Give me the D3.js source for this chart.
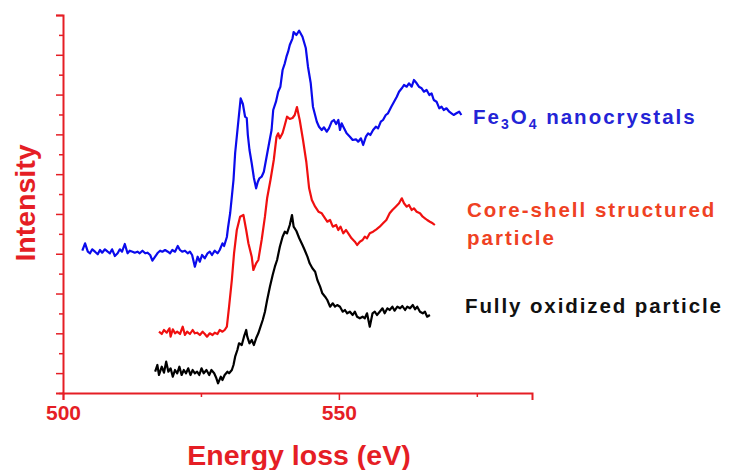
<!DOCTYPE html>
<html>
<head>
<meta charset="utf-8">
<script src="https://cdn.jsdelivr.net/npm/d3@7"></script>
<style>
  body { margin: 0; background: #fff; }
  text { font-family: "Liberation Sans", Arial, sans-serif; font-weight: bold; }
</style>
</head>
<body>
<div id="chart-container"></div>
<script>
// energy loss (eV) and intensity (a.u.)
const fe3o4Energy = [503.5,504.0,504.5,504.9,505.3,505.8,506.3,506.7,507.1,507.6,508.1,508.5,508.9,509.4,509.9,510.3,510.7,511.2,511.7,512.1,512.6,513.0,513.5,513.9,514.4,514.9,515.3,515.8,516.2,516.7,517.2,517.6,518.0,518.5,519.0,519.4,519.8,520.3,520.8,521.2,521.6,522.1,522.6,523.0,523.4,523.9,524.4,524.8,525.2,525.7,526.2,526.6,527.0,527.5,528.0,528.4,528.9,529.2,529.7,529.9,530.3,530.6,530.9,531.2,531.8,532.2,532.6,533.0,533.3,533.5,533.8,534.2,534.6,535.0,535.3,535.6,536.0,536.4,536.9,537.4,537.8,538.1,538.6,539.0,539.4,539.8,540.2,540.5,540.8,541.1,541.6,541.8,542.3,542.8,543.4,544.0,544.4,544.9,545.3,546.0,546.4,546.9,547.3,547.8,548.2,548.7,549.1,549.5,549.9,550.2,550.5,550.8,551.4,552.0,552.5,553.1,553.5,554.0,554.4,554.9,555.3,555.7,556.2,556.7,557.1,557.6,558.0,558.5,558.9,559.5,560.0,560.5,560.9,561.4,561.8,562.3,562.7,563.2,563.6,564.1,564.5,565.0,565.4,565.9,566.4,566.8,567.2,567.7,568.2,568.6,569.0,569.5,570.0,570.4,570.8,571.3,571.8,572.2];
const fe3o4Counts = [1423,1497,1413,1397,1437,1413,1387,1430,1403,1437,1413,1397,1437,1370,1397,1437,1413,1490,1397,1423,1413,1403,1413,1397,1423,1397,1403,1380,1323,1363,1403,1423,1413,1430,1413,1397,1430,1413,1470,1430,1413,1423,1397,1413,1380,1263,1363,1313,1380,1347,1397,1413,1380,1423,1397,1430,1497,1470,1560,1650,1800,1963,2130,2400,2730,2947,2890,2763,2750,2580,2430,2297,2150,2047,2110,2147,2163,2213,2363,2513,2630,2830,2913,3013,3063,3230,3297,3363,3413,3480,3547,3610,3580,3623,3563,3450,3263,3097,2863,2713,2663,2630,2657,2613,2647,2713,2730,2690,2730,2630,2697,2663,2597,2563,2530,2537,2513,2547,2480,2563,2597,2580,2630,2663,2647,2713,2730,2780,2797,2863,2913,2963,3013,3047,3080,3063,3097,3063,3130,3097,3063,3047,3013,3030,2980,2997,2930,2913,2847,2863,2830,2847,2813,2797,2780,2797,2813,2780];

const coreEnergy = [517.4,517.9,518.3,518.8,519.3,519.5,519.9,520.3,520.7,521.2,521.7,522.1,522.5,523.0,523.5,523.9,524.3,524.8,525.3,525.7,526.1,526.6,527.1,527.5,528.0,528.4,528.9,529.3,529.7,530.1,530.6,531.0,531.5,532.1,532.7,533.2,533.6,534.2,534.5,535.0,535.4,536.0,536.6,537.0,537.6,538.2,538.7,539.0,539.3,539.8,540.2,540.6,541.1,541.6,542.0,542.4,542.7,542.9,543.5,544.1,544.6,545.1,545.7,546.3,546.9,547.5,547.9,548.4,548.9,549.5,549.9,550.3,550.8,551.3,551.7,552.3,552.9,553.3,553.8,554.3,554.7,555.1,555.6,556.2,556.8,557.4,558.0,558.6,559.2,559.7,560.3,560.9,561.4,561.8,562.3,562.7,563.2,563.6,564.1,564.7,565.2,565.6,566.0,566.5,567.0,567.4];
const coreCounts = [613,590,630,603,647,563,637,597,613,590,663,580,613,590,630,597,603,580,613,590,563,597,580,603,590,630,613,630,663,863,1130,1397,1630,1763,1780,1630,1497,1363,1230,1297,1330,1530,1763,1950,2130,2330,2563,2597,2547,2600,2680,2763,2740,2750,2780,2860,2780,2730,2530,2310,2050,1930,1863,1813,1797,1747,1713,1730,1663,1680,1630,1663,1597,1630,1597,1547,1513,1480,1513,1530,1563,1547,1597,1613,1637,1663,1697,1730,1797,1830,1863,1897,1947,1897,1863,1880,1830,1847,1813,1797,1763,1747,1730,1713,1697,1680];

const oxEnergy = [516.7,517.1,517.4,517.9,518.3,518.7,519.1,519.5,519.9,520.3,520.7,521.1,521.5,521.9,522.3,522.7,523.1,523.5,523.9,524.3,524.7,525.1,525.5,526.0,526.5,526.9,527.4,527.8,528.1,528.6,528.9,529.3,529.8,530.1,530.6,530.9,531.2,531.6,531.9,532.4,532.8,533.2,533.4,533.8,534.2,534.6,535.0,535.4,535.8,536.2,536.6,537.0,537.5,538.0,538.4,538.8,539.3,539.8,540.2,540.6,541.1,541.5,541.8,542.3,542.8,543.4,543.8,544.3,544.7,545.2,545.7,546.1,546.6,547.0,547.5,547.9,548.4,548.9,549.3,549.7,550.2,550.7,551.1,551.5,552.0,552.5,552.9,553.3,553.8,554.3,554.7,555.1,555.6,556.1,556.5,556.9,557.4,557.9,558.3,558.8,559.2,559.7,560.1,560.6,561.1,561.5,562.0,562.4,562.9,563.4,563.8,564.2,564.7,565.2,565.6,566.0,566.5];
const oxCounts = [213,280,180,263,203,313,213,247,163,230,197,263,180,230,197,247,180,230,197,213,180,247,197,230,180,230,197,147,97,163,130,180,213,197,230,280,363,430,497,480,563,630,563,497,530,480,547,597,663,730,813,930,1063,1180,1263,1330,1463,1563,1613,1597,1680,1780,1663,1620,1550,1480,1430,1363,1297,1247,1213,1130,1063,997,963,930,863,897,863,880,863,813,830,797,813,780,813,763,747,763,747,797,663,797,813,780,813,847,797,847,830,863,823,863,847,870,830,863,847,880,837,863,813,797,813,763,780];

const xTickValues = [500, 525, 550, 575];
const xTickLabels = ["500", "", "550", ""];

const axisColor = "#e51e25";

const svg = d3.select("#chart-container")
    .append("svg")
    .attr("width", 729)
    .attr("height", 470);

const x = d3.scaleLinear()
    .domain([500, 585])
    .range([63, 532]);

const y = d3.scaleLinear()
    .domain([0, 3780])
    .range([393, 15]);

// 19 unlabeled intervals on the intensity axis, every other one long
const yTicks = d3.range(0, 20).map(i => i * 3780 / 19);

const series = [
    {energy: fe3o4Energy, counts: fe3o4Counts, color: "#0b0bec"},
    {energy: coreEnergy, counts: coreCounts, color: "#f01010"},
    {energy: oxEnergy, counts: oxCounts, color: "#000000"}
];

const line = d3.line()
    .x(d => x(d[0]))
    .y(d => y(d[1]));

series.forEach(s => {
    const pts = s.energy.map((e, i) => [e, s.counts[i]]);
    svg.append("path")
        .datum(pts)
        .attr("fill", "none")
        .attr("stroke", s.color)
        .attr("stroke-width", 2.2)
        .attr("stroke-linejoin", "round")
        .attr("d", line);
});

// x axis
const xAxis = svg.append("g")
    .attr("transform", `translate(0, ${y(0)})`)
    .call(d3.axisBottom(x)
        .tickValues(xTickValues)
        .tickFormat((d, i) => xTickLabels[i])
        .tickSize(7)
        .tickPadding(5));
xAxis.select(".domain").attr("stroke", axisColor).attr("stroke-width", 2);
xAxis.selectAll(".tick line")
    .attr("stroke", axisColor)
    .attr("stroke-width", 1.5)
    .attr("y2", (d, i) => xTickLabels[i] ? 7 : 4);
xAxis.selectAll(".tick text")
    .attr("fill", axisColor)
    .style("font-size", "21px")
    .style("font-weight", "bold")
    .style("font-family", "'Liberation Sans', Arial, sans-serif");

// y axis
const yAxis = svg.append("g")
    .attr("transform", `translate(${x(500)}, 0)`)
    .call(d3.axisLeft(y)
        .tickValues(yTicks)
        .tickFormat("")
        .tickSizeOuter(0)
        .tickSize(7));
yAxis.select(".domain").attr("stroke", axisColor).attr("stroke-width", 2);
yAxis.selectAll(".tick line")
    .attr("stroke", axisColor)
    .attr("stroke-width", 1.5)
    .attr("x2", (d, i) => i % 2 === 1 ? -7 : -4);

// axis titles
svg.append("text")
    .attr("x", 299)
    .attr("y", 465)
    .attr("text-anchor", "middle")
    .attr("fill", axisColor)
    .style("font-size", "28.5px")
    .text("Energy loss (eV)");

svg.append("text")
    .attr("transform", "translate(35, 203) rotate(-90)")
    .attr("text-anchor", "middle")
    .attr("fill", axisColor)
    .style("font-size", "28.5px")
    .text("Intensity");

// curve labels
const fe = svg.append("text")
    .attr("x", 473)
    .attr("y", 124)
    .attr("fill", "#2424d6")
    .style("font-size", "20.5px")
    .style("letter-spacing", "2px");
fe.append("tspan").text("Fe");
fe.append("tspan").attr("dy", 5).style("font-size", "14px").text("3");
fe.append("tspan").attr("dy", -5).text("O");
fe.append("tspan").attr("dy", 5).style("font-size", "14px").text("4");
fe.append("tspan").attr("dy", -5).text(" nanocrystals");

svg.append("text")
    .attr("x", 467)
    .attr("y", 217)
    .attr("fill", "#ef4123")
    .style("font-size", "20.5px")
    .style("letter-spacing", "2px")
    .text("Core-shell structured");

svg.append("text")
    .attr("x", 467)
    .attr("y", 245)
    .attr("fill", "#ef4123")
    .style("font-size", "20.5px")
    .style("letter-spacing", "2px")
    .text("particle");

svg.append("text")
    .attr("x", 465)
    .attr("y", 313)
    .attr("fill", "#111111")
    .style("font-size", "20.5px")
    .style("letter-spacing", "1.9px")
    .text("Fully oxidized particle");
</script>
</body>
</html>
